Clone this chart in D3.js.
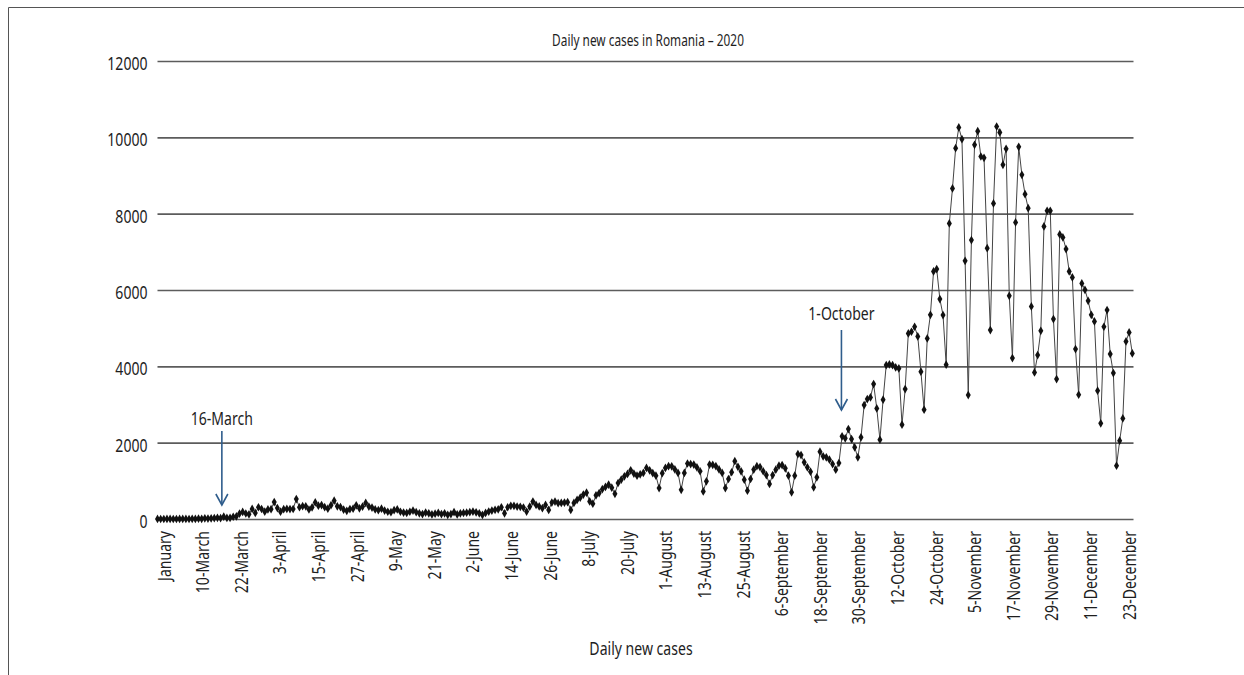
<!DOCTYPE html>
<html><head><meta charset="utf-8">
<script src="https://cdn.jsdelivr.net/npm/d3@7"></script>
<style>
body{margin:0;background:#fff;}
svg text{font-family:"Noto Sans","Open Sans",sans-serif;fill:#1e1e1e;}
</style></head><body>
<svg id="chart" width="1244" height="675"></svg>
<script>
// ---- data ----
const tickLabels = ["January","10-March","22-March","3-April","15-April","27-April","9-May","21-May","2-June","14-June","26-June","8-July","20-July","1-August","13-August","25-August","6-September","18-September","30-September","12-October","24-October","5-November","17-November","29-November","11-December","23-December"];
const yTicks = [0,2000,4000,6000,8000,10000,12000];
const casesFebMar = [1,0,0,1,1,0,0,1,1,2,0,6,2,9,4,18,12,17,25,31,25,61,29,31,59,66,143,186,144,123,263,160,308,262,192];
const casesApr = [251,257,445,287,193,258,264,260,262,523,308,337,333,249,306,434,348,364,309,269,362,480,332,312,244,215,261,270,360,280];
const casesMay = [325,420,327,300,250,230,270,220,190,180,230,250,190,170,160,190,220,180,150,130,170,150,120,140,160,130,150,110,130,180,120];
const casesJun = [150,160,167,180,194,175,150,106,160,194,220,240,255,308,150,308,344,344,326,320,300,194,326,458,370,330,282,370,238,432];
const casesJul = [458,414,420,430,440,238,420,500,560,640,690,460,400,620,680,780,840,900,820,660,943,1031,1119,1180,1277,1189,1136,1170,1207,1339,1277];
const casesAug = [1200,1136,810,1200,1339,1383,1380,1300,1207,766,1207,1454,1440,1427,1350,1251,722,987,1427,1420,1383,1300,1207,810,1048,1225,1515,1366,1250,1031,740];
const casesSep = [1048,1295,1383,1360,1251,1150,920,1152,1292,1397,1414,1327,1135,698,1135,1702,1676,1484,1353,1240,829,1091,1763,1641,1615,1554,1440,1292,1467,2165];
const casesOct = [2113,2357,2095,1877,1615,2139,2986,3143,3186,3536,2898,2078,3125,4033,4051,4033,3972,3946,2471,3405,4863,4906,5037,4784,3859,2863,4732,5351,6486,6548,5762];
const casesNov = [5343,4042,7744,8660,9716,10258,9952,6766,3248,7307,9804,10162,9498,9463,7097,4950,8267,10284,10127,9280,9699,5849,4217,7770,9751,9018,8512,8145,5570,3841];
const casesDec = [4295,4932,7665,8075,8075,5238,3667,7455,7377,7071,6486,6329,4452,3256,6172,6006,5718,5351,5177,3361,2506,5037,5474,4321,3824,1397,2052,2636,4653,4889,4339];
const annotations = [{label:"16-March", day:20.4}, {label:"1-October", day:216.8}];

const daily = [].concat(casesFebMar, casesApr, casesMay, casesJun, casesJul, casesAug, casesSep, casesOct, casesNov, casesDec);

(function(){
const svg = d3.select("#chart");
const pLeft = 157.5, pRight = 1133.5, pTop = 61, pBottom = 519;
const SX = 0.74, FS = 19;

const y = d3.scaleLinear().domain([0, 12000]).range([pBottom, pTop]);
const x = d3.scaleLinear().domain([0, daily.length - 1]).range([pLeft, 1132.3]);
const xLab = d3.scalePoint().domain(tickLabels).range([163.3, 1128.3]);

function label(px, py, txt, fs) {
  svg.append("g").attr("transform", `translate(${px},${py})`)
    .append("text").attr("transform", `scale(${SX},1)`).attr("text-anchor", "middle")
    .attr("dy", "0.35em").attr("font-size", fs).text(txt);
}

// frame
svg.append("path").attr("d", "M8.5,675 L8.5,7.5 L1244,7.5").attr("fill", "none").attr("stroke", "#555").attr("stroke-width", 1);

// gridlines + y labels
const yAxis = d3.axisLeft(y).tickValues(yTicks).tickSize(-(pRight - pLeft)).tickFormat(d3.format("d"));
const gy = svg.append("g").attr("transform", `translate(${pLeft},0)`).call(yAxis);
gy.select(".domain").remove();
gy.selectAll(".tick line").attr("stroke", "#5c5c5c").attr("stroke-width", 1.6);
gy.selectAll(".tick text").attr("font-size", FS).attr("fill", "#1e1e1e")
  .attr("transform", `scale(${SX},1)`).attr("x", -10 / SX).attr("dy", "0.45em");

// x labels
const xAxis = d3.axisBottom(xLab).tickSize(0).tickPadding(0);
const gx = svg.append("g").attr("transform", `translate(0,${pBottom})`).call(xAxis);
gx.select(".domain").remove();
gx.selectAll(".tick text")
  .attr("font-size", FS).attr("fill", "#1e1e1e")
  .attr("text-anchor", "end")
  .attr("transform", `rotate(-90) scale(${SX},1)`)
  .attr("x", -12 / SX).attr("y", 0).attr("dy", "0.36em");

// line + markers
const line = d3.line().x((d, i) => x(i)).y(d => y(d));
svg.append("path").datum(daily).attr("d", line).attr("fill", "none").attr("stroke", "#444").attr("stroke-width", 1);
svg.append("g").selectAll("path").data(daily).join("path")
  .attr("transform", (d, i) => `translate(${x(i)},${y(d)})`)
  .attr("d", d3.symbol().type(d3.symbolDiamond).size(22))
  .attr("fill", "#111");

// annotations
const annY = [{t: 418, a0: 431, a1: 505}, {t: 313, a0: 330, a1: 410}];
annotations.forEach((a, k) => {
  const ax = x(a.day);
  label(ax, annY[k].t, a.label, FS);
  const g = svg.append("g");
  g.append("line").attr("x1", ax).attr("x2", ax).attr("y1", annY[k].a0).attr("y2", annY[k].a1).attr("stroke", "#2f5d8c").attr("stroke-width", 1.6);
  g.append("path").attr("d", `M${ax-6},${annY[k].a1-11} L${ax},${annY[k].a1} L${ax+6},${annY[k].a1-11}`).attr("fill", "none").attr("stroke", "#2f5d8c").attr("stroke-width", 1.6);
});

// titles
label(648, 40, "Daily new cases in Romania \u2013 2020", 16);
label(641, 648, "Daily new cases", FS);
})();
</script>
</body></html>
